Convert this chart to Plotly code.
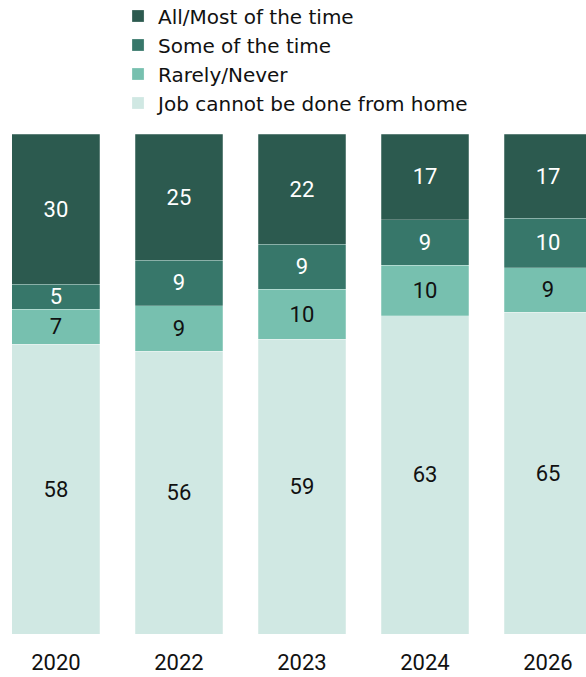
import plotly.graph_objects as go

years = ["2020", "2022", "2023", "2024", "2026"]
all_most = [30, 25, 22, 17, 17]
some_time = [5, 9, 9, 9, 10]
rarely_never = [7, 9, 10, 10, 9]
cannot_home = [58, 56, 59, 63, 65]

series = [
    ("Job cannot be done from home", cannot_home, "#d0e8e3", "#111111"),
    ("Rarely/Never", rarely_never, "#77c0af", "#111111"),
    ("Some of the time", some_time, "#37776a", "#ffffff"),
    ("All/Most of the time", all_most, "#2c5a4f", "#ffffff"),
]

FONT = "Roboto"
LEGEND_FONT = "DejaVu Sans"
xpos = list(range(len(years)))

fig = go.Figure()
for name, vals, color, tcolor in series:
    fig.add_trace(go.Bar(
        x=xpos, y=vals, name=name, width=0.715,
        marker=dict(color=color, line=dict(width=0.8, color="rgba(255,255,255,0.3)")),
        text=[str(v) for v in vals], textposition="inside",
        insidetextanchor="middle", textangle=0,
        textfont=dict(family=FONT, size=22, color=tcolor),
        hoverinfo="skip",
    ))

fig.update_layout(
    barmode="stack", barnorm="percent",
    width=586, height=677,
    margin=dict(l=0, r=0, t=134, b=43, autoexpand=False),
    paper_bgcolor="white", plot_bgcolor="white",
    uniformtext=dict(minsize=22, mode="show"),
    showlegend=True,
    legend=dict(
        traceorder="reversed", orientation="v",
        x=0.2014, xanchor="left", y=1.275, yanchor="top",
        font=dict(family=LEGEND_FONT, size=20, color="#111111"),
        itemwidth=30, tracegroupgap=0, bgcolor="rgba(0,0,0,0)",
    ),
    xaxis=dict(
        tickmode="array", tickvals=xpos, ticktext=years,
        range=[-0.455, 4.309], showgrid=False, zeroline=False,
        showline=False, ticks="", ticklabelstandoff=13,
        tickfont=dict(family=FONT, size=22, color="#111111"),
    ),
    yaxis=dict(range=[0, 100], visible=False),
)

fig.write_html("out.html")
